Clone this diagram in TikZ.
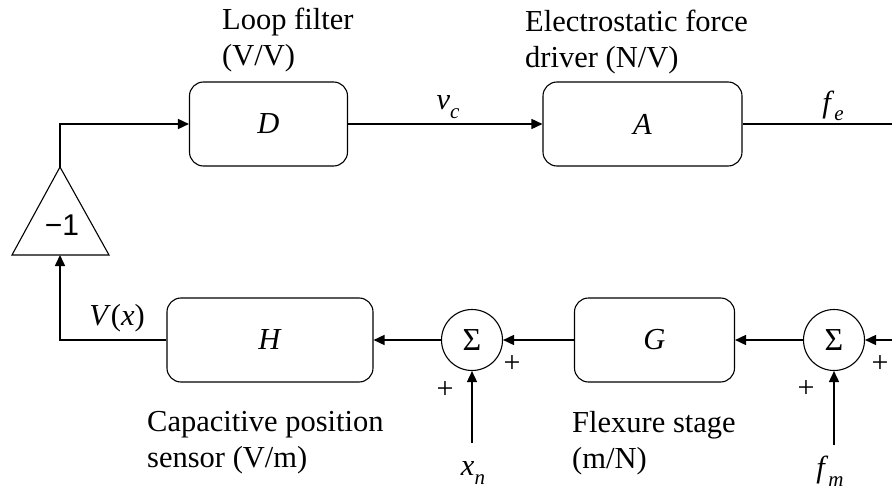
\documentclass[tikz,border=0pt]{standalone}
\usepackage{fontspec}
\setmainfont{Liberation Serif}
\newfontfamily\gainfont{Liberation Sans}
\usepackage{tikz}
\usetikzlibrary{arrows.meta}
\definecolor{wireColor}{HTML}{000000}
\newcommand{\lowsub}[1]{\raisebox{-9pt}{\fontsize{21}{21}\selectfont\itshape #1}}

\begin{document}
\begin{tikzpicture}[x=1pt, y=-1pt, font=\fontsize{30.5}{36}\selectfont,
    block/.style={draw, rounded corners=14pt, line width=1.1pt, minimum height=84pt, inner sep=0pt},
    sumnode/.style={draw, circle, line width=1.1pt, minimum size=61pt, inner sep=0pt, font=\fontsize{32}{32}\selectfont},
    arr/.style={wireColor, line width=1.6pt, -{Triangle[length=11pt,width=10pt]}},
    wire/.style={wireColor, line width=1.6pt},
    caption/.style={anchor=west, align=left, inner sep=0pt},
    label/.style={anchor=base, inner sep=0pt},
    sign/.style={inner sep=0pt, font=\fontsize{30}{30}\selectfont}]
    \useasboundingbox (0,0) rectangle (892,495);
    \node[block, minimum width=158pt] (D) at (268.5,124) {\textit{D}};
    \node[block, minimum width=199pt] (A) at (642.5,124) {\textit{A}};
    \node[block, minimum width=206pt] (H) at (270,340) {\textit{H}};
    \node[block, minimum width=160pt] (G) at (654.5,340) {\textit{G}};
    \node[sumnode] (S1) at (472,340) {Σ};
    \node[sumnode] (S2) at (834,340) {Σ};
    \coordinate (amptop) at (60,167);
    \coordinate (ampbase) at (60,255);
    \draw[line width=1.1pt] (amptop) -- (12,255) -- (109,255) -- cycle;
    \node[font=\gainfont\fontsize{30}{36}\selectfont] (gain) at (62,225) {−1};
    \coordinate (feout) at (892,124);
    \coordinate (fmin) at (892,340);
    \coordinate (xnin) at (472,443);
    \coordinate (fmup) at (834,445);

    \draw[arr] (amptop) |- (D.west);
    \draw[arr] (D.east) -- (A.west);
    \draw[wire] (A.east) -- (feout);
    \draw[arr] (fmin) -- (S2.east);
    \draw[arr] (S2.west) -- (G.east);
    \draw[arr] (G.west) -- (S1.east);
    \draw[arr] (S1.west) -- (H.east);
    \draw[arr] (H.west) -| (ampbase);
    \draw[arr] (xnin) -- (S1.south);
    \draw[arr] (fmup) -- (S2.south);

    \node[label] (vc) at (448,110) {\textit{v}\lowsub{c}};
    \node[label] (fe) at (833,112) {\textit{f}\lowsub{e}};
    \node[label] (vx) at (117,325) {\textit{V}(\textit{x})};
    \node[label] (xn) at (473,475) {\textit{x}\lowsub{n}};
    \node[label] (fm) at (830,477) {\textit{f}\lowsub{m}};
    \node[sign] (p1) at (512,364) {+};
    \node[sign] (p2) at (445,390) {+};
    \node[sign] (p3) at (880,364) {+};
    \node[sign] (p4) at (806,389) {+};

    \node[caption] (loopcap) at (222,40) {Loop filter\\(V/V)};
    \node[caption] (drivercap) at (525,42) {Electrostatic force\\driver (N/V)};
    \node[caption] (sensorcap) at (147,443) {Capacitive position\\sensor (V/m)};
    \node[caption] (stagecap) at (572,443) {Flexure stage\\(m/N)};
\end{tikzpicture}
\end{document}
